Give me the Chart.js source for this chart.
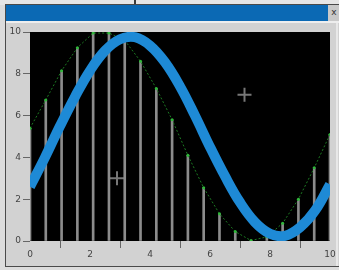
<!DOCTYPE html>
<html>
<head>
<meta charset="utf-8">
<script src="https://cdn.jsdelivr.net/npm/chart.js@4"></script>
<style>
    html, body { margin: 0; padding: 0; }
    body { width: 339px; height: 270px; overflow: hidden; position: relative; background: #dcdcdc; font-family: 'DejaVu Sans', sans-serif; }
    .strip { position: absolute; left: 0; top: 0; width: 339px; height: 5px; background: #e6e6e6; }
    .strip-line { position: absolute; left: 134px; top: 0; width: 2px; height: 5px; background: #3a3a3a; }
    .win { position: absolute; left: 5px; top: 4px; width: 334px; height: 261px; border-left: 1px solid #4a4a4a; border-top: 1px solid #4a4a4a; border-bottom: 1px solid #4a4a4a; background: #d2d2d2; }
    .title { position: absolute; left: 0; top: 0; width: 322px; height: 16px; background: #0b69b4; }
    .close { position: absolute; left: 322px; top: 0; width: 12px; height: 16px; background: #c9c9c9; color: #333; font-size: 9px; line-height: 14px; text-align: center; }
    .sep { position: absolute; left: 0; top: 16px; width: 334px; height: 2px; background: #eeeeee; }
    .rside { position: absolute; left: 330px; top: 18px; width: 2px; height: 243px; background: #e8e8e8; }
    canvas { position: absolute; left: 0; top: 0; }
</style>
</head>
<body>
<div class="strip"><div class="strip-line"></div></div>
<div class="win">
    <div class="title"></div>
    <div class="close">x</div>
    <div class="sep"></div>
    <div class="rside"></div>
</div>
<canvas id="chart" width="339" height="270"></canvas>
<script>
// ── data ──
const xTicks = [0, 2, 4, 6, 8, 10];
const yTicks = [0, 2, 4, 6, 8, 10];

// thick blue curve
const waveX = [0, 0.5, 1, 1.5, 2, 2.5, 3, 3.5, 4, 4.5, 5, 5.5, 6, 6.5, 7, 7.5, 8, 8.5, 9, 9.5, 10];
const waveY = [2.6, 4.0, 5.5, 6.9, 8.15, 9.1, 9.65, 9.75, 9.35, 8.55, 7.4, 6.0, 4.5, 3.1, 1.85, 0.9, 0.35, 0.25, 0.65, 1.45, 2.7];

// stems + green dashed line
const stemX = [0, 0.526, 1.053, 1.579, 2.105, 2.632, 3.158, 3.684, 4.211, 4.737, 5.263, 5.789, 6.316, 6.842, 7.368, 7.895, 8.421, 8.947, 9.474, 10];
const stemY = [5.4, 6.75, 8.15, 9.25, 9.95, 9.95, 9.6, 8.6, 7.3, 5.8, 4.1, 2.55, 1.3, 0.45, 0.02, 0.2, 0.85, 2.0, 3.5, 5.1];

// crosshair markers
const crossX = [2.9, 7.15];
const crossY = [3.0, 7.0];

const pts = (xs, ys) => xs.map((x, i) => ({ x, y: ys[i] }));

const blackArea = {
    id: 'blackArea',
    beforeDatasetsDraw(chart) {
        const { ctx, chartArea: a } = chart;
        ctx.save();
        ctx.fillStyle = '#000';
        ctx.fillRect(a.left, a.top, a.right - a.left, a.bottom - a.top);
        ctx.restore();
    }
};

const tickFont = { family: 'DejaVu Sans', size: 9 };

new Chart(document.getElementById('chart'), {
    type: 'line',
    data: {
        datasets: [
            {
                type: 'bar',
                data: pts(stemX, stemY),
                backgroundColor: '#8c8c8c',
                barThickness: 2,
                order: 4
            },
            {
                data: pts(stemX, stemY),
                borderColor: '#1c7a22',
                borderWidth: 1,
                borderDash: [2, 2],
                pointRadius: 1.5,
                pointBackgroundColor: '#2fb83a',
                pointBorderWidth: 0,
                tension: 0,
                order: 3
            },
            {
                data: pts(waveX, waveY),
                borderColor: '#1e8ad6',
                borderWidth: 10,
                pointRadius: 0,
                tension: 0.4,
                clip: 0,
                order: 2
            },
            {
                data: pts(crossX, crossY),
                showLine: false,
                pointStyle: 'cross',
                pointRadius: 7,
                borderColor: 'rgba(140,140,140,0.85)',
                borderWidth: 2,
                order: 1
            }
        ]
    },
    options: {
        responsive: false,
        animation: false,
        layout: { padding: { top: 32, right: 6, left: 0, bottom: 0 } },
        plugins: { legend: { display: false }, tooltip: { enabled: false } },
        scales: {
            x: {
                type: 'linear',
                min: 0, max: 10,
                offset: false,
                afterBuildTicks: s => { s.ticks = xTicks.map(v => ({ value: v })); },
                afterFit: s => { s.height = 29; },
                border: { display: false },
                grid: { drawOnChartArea: false, tickLength: 7, color: '#666' },
                ticks: { color: '#444', font: tickFont, padding: 1, maxRotation: 0 }
            },
            y: {
                min: 0, max: 10,
                afterBuildTicks: s => { s.ticks = yTicks.map(v => ({ value: v })); },
                afterFit: s => { s.width = 30; },
                border: { display: false },
                grid: { drawOnChartArea: false, tickLength: 7, color: '#666' },
                ticks: { color: '#444', font: tickFont, padding: 2 }
            }
        }
    },
    plugins: [blackArea]
});
</script>
</body>
</html>
